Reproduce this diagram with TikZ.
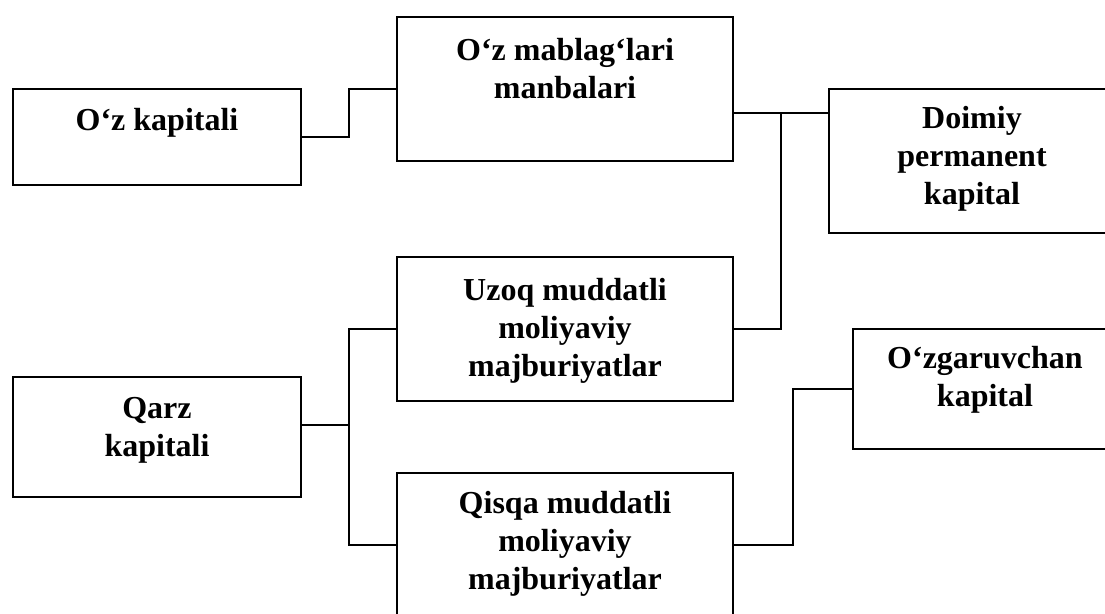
\documentclass[tikz,border=0pt]{standalone}
\usepackage{fontspec}
\setmainfont{Liberation Serif}
\begin{document}
\begin{tikzpicture}[x=1pt,y=-1pt,
  box/.style={draw=black,line width=2.4pt,rectangle,anchor=north west,inner sep=0pt,outer sep=0pt},
  lbl/.style={anchor=base,align=center,inner sep=0pt,font=\fontsize{32}{38}\selectfont\bfseries},
  conn/.style={draw=black,line width=2.2pt}]
\useasboundingbox (0,0) rectangle (1105,613);
\clip (0,0) rectangle (1105,613);
% boxes
\node[box,minimum width=288pt,minimum height=96pt] (ozk) at (13,89) {};
\node[box,minimum width=336pt,minimum height=144pt] (man) at (397,17) {};
\node[box,minimum width=288pt,minimum height=144pt] (doi) at (829,89) {};
\node[box,minimum width=336pt,minimum height=144pt] (uzo) at (397,257) {};
\node[box,minimum width=288pt,minimum height=120pt] (qar) at (13,377) {};
\node[box,minimum width=336pt,minimum height=144pt] (qis) at (397,473) {};
\node[box,minimum width=288pt,minimum height=120pt] (ozg) at (853,329) {};
% texts (base anchor = baseline of last line)
\node[lbl] (tozk) at (157,130) {O‘z kapitali};
\node[lbl] (tman) at (565,98) {O‘z mablag‘lari\\manbalari};
\node[lbl] (tdoi) at (972,204) {Doimiy\\permanent\\kapital};
\node[lbl] (tuzo) at (565,376) {Uzoq muddatli\\moliyaviy\\majburiyatlar};
\node[lbl] (tqar) at (157,456) {Qarz\\kapitali};
\node[lbl] (tqis) at (565,589) {Qisqa muddatli\\moliyaviy\\majburiyatlar};
\node[lbl] (tozg) at (985,406) {O‘zgaruvchan\\kapital};
% junctions
\coordinate (j1) at (349,0);
\coordinate (j2) at (781,0);
\coordinate (j3) at (793,0);
% connectors
\draw[conn] (ozk.east) -- (ozk.east -| j1) -- (man.west -| j1) -- (man.west);
\draw[conn] (man.east |- 0,113) -- (doi.west |- 0,113);
\draw[conn] (uzo.east) -- (uzo.east -| j2) -- (j2 |- 0,113);
\draw[conn] (qar.east |- 0,425) -- (j1 |- 0,425);
\draw[conn] (uzo.west) -- (uzo.west -| j1) -- (qis.west -| j1) -- (qis.west);
\draw[conn] (qis.east) -- (qis.east -| j3) -- (ozg.west -| j3) -- (ozg.west);
\end{tikzpicture}
\end{document}
